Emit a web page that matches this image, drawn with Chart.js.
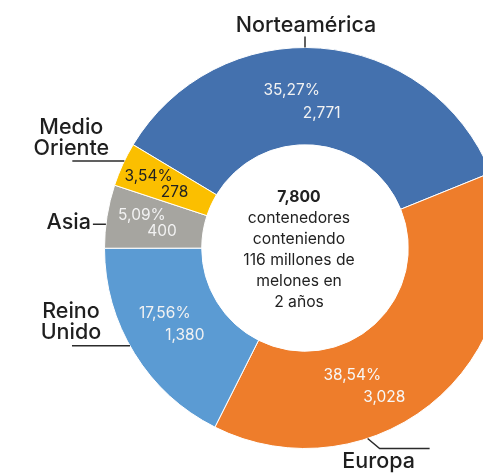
<!DOCTYPE html>
<html>
<head>
<meta charset="utf-8">
<script src="https://cdn.jsdelivr.net/npm/chart.js@4"></script>
<style>
  html, body { margin: 0; padding: 0; background: #fff; }
  #wrap { position: relative; width: 483px; height: 473px; overflow: hidden; }
  #donut { position: absolute; left: 0; top: 0; }
</style>
</head>
<body>
<div id="wrap">
  <canvas id="donut" width="610" height="496"></canvas>
</div>
<script>
/* =========================
   Data
========================= */
const regions = ['Norteamérica', 'Europa', 'Reino Unido', 'Asia', 'Medio Oriente'];
const containers = [2771, 3028, 1380, 400, 278];
const centerLines = ['7,800', 'contenedores', 'conteniendo', '116 millones de', 'melones en', '2 años'];

const sliceColors = ['#4471AE', '#EE7D2B', '#5B9BD3', '#A6A5A0', '#FBBF00'];
const valueColors = ['#F2F2F2', '#F7F7F7', '#F2F2F2', '#F2F2F2', '#222222'];

const FONT = 'Inter, "Noto Sans", sans-serif';

// where the value labels sit inside each slice (t = share of the arc, r = radius)
const valuePos = [
    { t: 0.47, r: 146, dx: 15, dy: 11.5 },
    { t: 0.63, r: 152, dx: 16, dy: 11 },
    { t: 0.52, r: 151, dx: 10, dy: 11 },
    { t: 0.50, r: 155, dx: 10, dy: 8 },
    { t: 0.45, r: 157, dx: 13, dy: 8 }
];

// outside names with leader lines (angle in degrees, clockwise from 3 o'clock)
const callouts = [
    { angle: -90, path: [[0, -11]], text: ['Norteamérica'], tx: 1, ty: -22, align: 'center' },
    { angle: 71.8, path: [[12, 10], [62, 10]], text: ['Europa'], tx: 11, ty: 23, align: 'center' },
    { angle: 150.8, path: [[-58, 0]], text: ['Reino', 'Unido'], tx: -59, ty: -34, align: 'center' },
    { angle: 186.8, path: [[-13, 0]], text: ['Asia'], tx: -15, ty: -2, align: 'right' },
    { angle: 205.7, path: [[-52, 0]], text: ['Medio', 'Oriente'], tx: -53, ty: -34, align: 'center' }
];

function fmtPct(v, total) {
    return (v / total * 100).toFixed(2).replace('.', ',') + '%';
}

function fmtNum(v) {
    return v.toLocaleString('en-US');
}

/* =========================
   Labels plugin
========================= */
const donutLabels = {
    id: 'donutLabels',
    afterDraw(chart) {
        const ctx = chart.ctx;
        const meta = chart.getDatasetMeta(0);
        const data = chart.data.datasets[0].data;
        const total = data.reduce((a, b) => a + b, 0);

        ctx.save();
        ctx.textBaseline = 'middle';

        meta.data.forEach((arc, i) => {
            const p = arc.getProps(['x', 'y', 'startAngle', 'endAngle', 'outerRadius'], true);
            const pos = valuePos[i];
            const a = p.startAngle + pos.t * (p.endAngle - p.startAngle);
            const ax = p.x + Math.cos(a) * pos.r;
            const ay = p.y + Math.sin(a) * pos.r;

            ctx.fillStyle = valueColors[i];
            ctx.font = '400 15.5px ' + FONT;
            ctx.textAlign = 'center';
            ctx.fillText(fmtPct(data[i], total), ax - pos.dx, ay - pos.dy);
            ctx.fillText(fmtNum(data[i]), ax + pos.dx, ay + pos.dy);

            // leader line + name
            const c = callouts[i];
            const ca = c.angle * Math.PI / 180;
            const sx = p.x + Math.cos(ca) * p.outerRadius;
            const sy = p.y + Math.sin(ca) * p.outerRadius;

            ctx.strokeStyle = '#2b2b2b';
            ctx.lineWidth = 1.5;
            ctx.beginPath();
            ctx.moveTo(sx, sy);
            c.path.forEach(pt => ctx.lineTo(sx + pt[0], sy + pt[1]));
            ctx.stroke();

            ctx.fillStyle = '#1f1f1f';
            ctx.font = '500 21.5px ' + FONT;
            ctx.textAlign = c.align;
            c.text.forEach((line, k) => {
                ctx.fillText(line, sx + c.tx, sy + c.ty + k * 21);
            });
        });

        // center text
        const cx = meta.data[0].x;
        const cy = meta.data[0].y;
        ctx.fillStyle = '#222';
        ctx.textAlign = 'center';
        centerLines.forEach((line, k) => {
            ctx.font = (k === 0 ? '700 ' : '400 ') + '15.7px ' + FONT;
            ctx.fillText(line, cx - 6, cy - 51 + k * 21);
        });

        ctx.restore();
    }
};

/* =========================
   Doughnut
========================= */
const donutChart = new Chart(document.getElementById('donut').getContext('2d'), {
    type: 'doughnut',
    data: {
        labels: regions,
        datasets: [{
            data: containers,
            backgroundColor: sliceColors,
            borderColor: '#ffffff',
            borderWidth: 1
        }]
    },
    options: {
        responsive: false,
        animation: false,
        rotation: -59,
        cutout: '51.5%',
        layout: {
            padding: { left: 104, right: 104, top: 47, bottom: 47 }
        },
        plugins: {
            legend: { display: false },
            tooltip: { enabled: false }
        }
    },
    plugins: [donutLabels]
});
</script>
</body>
</html>
